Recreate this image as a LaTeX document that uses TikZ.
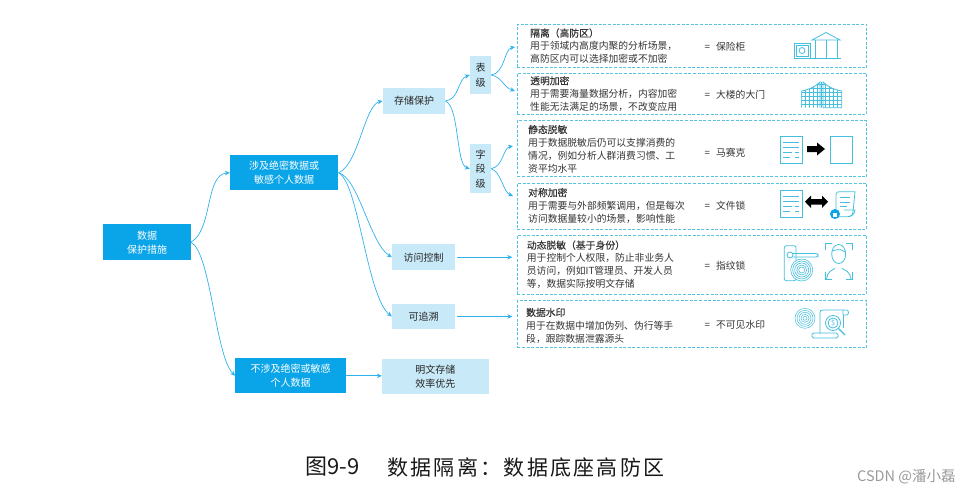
\documentclass[tikz,border=0pt]{standalone}
\usepackage{fontspec}
\setmainfont{Noto Sans CJK SC}
\newfontfamily\capfont[LetterSpace=11]{Noto Sans CJK SC}
\newfontfamily\headfont[FakeBold=.25]{Noto Sans CJK SC}
\usetikzlibrary{arrows.meta}
\definecolor{deepblue}{HTML}{0AA5E8}
\definecolor{paleblue}{HTML}{C8E9F7}
\definecolor{dashblue}{HTML}{55C5DF}
\definecolor{iconblue}{HTML}{45BFDD}
\definecolor{bodytext}{HTML}{333333}
\tikzset{
  mainbox/.style={fill=deepblue, text=white, inner sep=0pt, align=center, font=\fontsize{10}{14}\selectfont},
  subbox/.style={fill=paleblue, text=black!85, inner sep=0pt, align=center, font=\fontsize{10}{14}\selectfont},
  casebox/.style={draw=dashblue, dash pattern=on 3pt off 1.6pt, line width=1pt, minimum width=349.4pt, inner sep=0pt},
  desc/.style={anchor=west, inner sep=0pt, align=left, text=bodytext, font=\fontsize{9.8}{13}\selectfont},
  eqtext/.style={anchor=west, inner sep=0pt, text=bodytext, font=\fontsize{9.8}{13}\selectfont},
  link/.style={draw=deepblue!85, line width=.7pt, -{Stealth[length=5pt,width=4.5pt]}},
  icon/.style={draw=iconblue, line width=.8pt},
}
\begin{document}
\begin{tikzpicture}[x=1pt, y=-1pt]
  \useasboundingbox (0,0) rectangle (971,493);
  % left part
  \node[mainbox, minimum width=87.4pt, minimum height=35.7pt] (root) at (147,242.2) {数据\\保护措施};
  \node[mainbox, minimum width=108.3pt, minimum height=34.7pt] (sens) at (284.2,172.7) {涉及绝密数据或\\敏感个人数据};
  \node[mainbox, minimum width=110.7pt, minimum height=35pt] (plainrisk) at (290.7,375.8) {不涉及绝密或敏感\\个人数据};
  \node[subbox, minimum width=62.6pt, minimum height=26pt] (store) at (414,101) {存储保护};
  \node[subbox, minimum width=63pt, minimum height=26.3pt] (access) at (423.5,257.2) {访问控制};
  \node[subbox, minimum width=63pt, minimum height=25.6pt] (trace) at (423.5,316.5) {可追溯};
  \node[subbox, minimum width=106.7pt, minimum height=35.3pt] (plain) at (435.4,376.3) {明文存储\\效率优先};
  \node[subbox, minimum width=21pt, minimum height=38pt, font=\fontsize{10}{14.5}\selectfont] (tbl) at (480.5,75) {表\\级};
  \node[subbox, minimum width=21pt, minimum height=49.3pt, font=\fontsize{10}{14.5}\selectfont] (field) at (480.5,168.7) {字\\段\\级};
  % right part
  \node[casebox, minimum height=43.4pt] (safe) at (692,46) {};
  \node[casebox, minimum height=41pt] (gate) at (692,93.8) {};
  \node[casebox, minimum height=56pt] (mosaic) at (692,148.7) {};
  \node[casebox, minimum height=45.7pt] (filelock) at (692,206.2) {};
  \node[casebox, minimum height=59.3pt] (finger) at (692,264.7) {};
  \node[casebox, minimum height=47pt] (mark) at (692,324.2) {};
  \node[desc] (safetxt) at (530,46) {{\headfont 隔离（高防区）}\\用于领域内高度内聚的分析场景，\\高防区内可以选择加密或不加密};
  \node[desc] (gatetxt) at (530,93.8) {{\headfont 透明加密}\\用于需要海量数据分析，内容加密\\性能无法满足的场景，不改变应用};
  \node[desc] (mosaictxt) at (528,149) {{\headfont 静态脱敏}\\用于数据脱敏后仍可以支撑消费的\\情况，例如分析人群消费习惯、工\\资平均水平};
  \node[desc] (filetxt) at (528,205.7) {{\headfont 对称加密}\\用于需要与外部频繁调用，但是每次\\访问数据量较小的场景，影响性能};
  \node[desc] (fingertxt) at (526.7,264.7) {{\headfont 动态脱敏（基于身份）}\\用于控制个人权限，防止非业务人\\员访问，例如IT管理员、开发人员\\等，数据实际按明文存储};
  \node[desc] (marktxt) at (526,325.5) {{\headfont 数据水印}\\用于在数据中增加伪列、伪行等手\\段，跟踪数据泄露源头};
  \node[eqtext] (eqa) at (704.5,46.7) {=\hspace{6pt}保险柜};
  \node[eqtext] (eqb) at (704.5,94.3) {=\hspace{6pt}大楼的大门};
  \node[eqtext] (eqc) at (704.5,152.3) {=\hspace{6pt}马赛克};
  \node[eqtext] (eqd) at (704.5,206) {=\hspace{6pt}文件锁};
  \node[eqtext] (eqe) at (704.5,265.7) {=\hspace{6pt}指纹锁};
  \node[eqtext] (eqf) at (704.5,325) {=\hspace{6pt}不可见水印};
  % links
  \coordinate (safetip) at (515,47);
  \coordinate (gatetip) at (515,91);
  \coordinate (mosaictip) at (513,146);
  \coordinate (filetip) at (513,196);
  \draw[link] (root.east) .. controls +(22,-12) and +(-25,2) .. (sens.west);
  \draw[link] (root.east) .. controls +(20,10) and +(-20,-20) .. (plainrisk.west);
  \draw[link] (sens.east) .. controls +(20,-8) and +(-18,4) .. (store.west);
  \draw[link] (sens.east) .. controls +(20,5) and +(-22,-14) .. (access.west);
  \draw[link] (sens.east) .. controls +(20,10) and +(-25,-20) .. (trace.west);
  \draw[link] (plainrisk.east) -- (plainrisk.east -| plain.west);
  \draw[link] (store.east) .. controls +(14,-2) and +(-12,4) .. (tbl.west);
  \draw[link] (store.east) .. controls +(14,6) and +(-14,-4) .. (field.west);
  \draw[link] (tbl.east) .. controls +(14,-2) and +(-11,2) .. (safetip);
  \draw[link] (tbl.east) .. controls +(11,2) and +(-12,-4) .. (gatetip);
  \draw[link] (field.east) .. controls +(12,-2) and +(-10,2) .. (mosaictip);
  \draw[link] (field.east) .. controls +(10,3) and +(-10,-4) .. (filetip);
  \draw[link, shorten <=2pt, shorten >=4.5pt] (access.east) -- (access.east -| finger.west);
  \draw[link, shorten <=2pt, shorten >=4.5pt] (trace.east) -- (trace.east -| mark.west);
  % safe and bank
  \draw[icon] (794.3,43.3) rectangle (810.7,58.3) (796.5,45.5) rectangle (808.5,56);
  \draw[icon] (802,50.5) circle (3);
  \draw[icon] (812,40) -- (826,32.5) -- (840,40) -- cycle;
  \draw[icon] (811,58.5) -- (841,58.5);
  \foreach \i in {815,826.7,837}{
    \draw[icon] (\i,40) -- (\i,58.5);
  }
  % gate
  \begin{scope}
    \clip (801.7,107.7) -- (801.7,91) .. controls (808,90) and (815,87) .. (820,82) -- (823,82) .. controls (828,87) and (835,90) .. (841.7,91) -- (841.7,107.7) -- cycle;
    \foreach \i in {0,...,9}{
      \draw[icon, line width=.5pt] (801.7+4*\i,80) -- (801.7+4*\i,108);
    }
    \foreach \i in {0,...,6}{
      \draw[icon, line width=.5pt] (801,84+4*\i) -- (842,84+4*\i);
    }
  \end{scope}
  \draw[icon] (801.7,107.7) -- (801.7,91) .. controls (808,90) and (815,87) .. (820,82) -- (820,107.7) (823,107.7) -- (823,82) .. controls (828,87) and (835,90) .. (841.7,91) -- (841.7,107.7) -- cycle;
  % documents and arrows
  \foreach \y in {136.7,190.7}{
    \draw[icon] (780,\y) rectangle (802,\y+26.6);
    \draw[icon] (783,\y+6) -- (799,\y+6) (783,\y+11) -- (799,\y+11) (783,\y+16) -- (792,\y+16) (795,\y+16) -- (799,\y+16) (783,\y+21) -- (790,\y+21) (795,\y+21) -- (799,\y+21);
  }
  \draw[icon] (830.7,136.7) rectangle (852.7,163.3);
  \fill[black] (807,146) -- (817,146) -- (817,142.5) -- (825,149) -- (817,155.5) -- (817,152) -- (807,152) -- cycle;
  \fill[black] (805,201.7) -- (811,195.5) -- (811,199) -- (822,199) -- (822,195.5) -- (828,201.7) -- (822,208) -- (822,204.5) -- (811,204.5) -- (811,208) -- cycle;
  \draw[icon] (836,214) -- (836,194) .. controls (836,192) and (838,191.7) .. (840,191.7) -- (855,191.7) -- (853,212) .. controls (853,215) and (851,216.7) .. (848,216.7) -- (838,216.7);
  \draw[icon] (848,216.7) .. controls (851,216.7) and (855,214) .. (855,210) -- (844,210);
  \draw[icon] (840,197.5) -- (850,197.5) (840,202) -- (850,202) (840,206.5) -- (847,206.5);
  \fill[deepblue] (835,214) circle (5);
  \fill[white] (832.7,213.2) rectangle (837.3,216.8);
  \draw[white, line width=.6pt] (833.6,213.2) arc[start angle=180, end angle=0, radius=1.4];
  % door lock and face
  \draw[icon, rounded corners=2pt] (784.3,245.7) rectangle (796,280.7);
  \draw[icon] (790,255) circle (3);
  \draw[icon, rounded corners=2pt] (792,253.5) -- (818,253.5) -- (818,257) -- (793,257);
  \fill[white] (801.7,270) circle (11);
  \foreach \r in {3,5,7,9,11}{
    \draw[icon, line width=.6pt] (801.7,270) circle (\r);
  }
  \draw[icon] (825,250) -- (825,243.5) -- (832,243.5) (846,243.5) -- (852.7,243.5) -- (852.7,250);
  \draw[icon] (825,272) -- (825,279.5) -- (832,279.5) (846,279.5) -- (852.7,279.5) -- (852.7,272);
  \draw[icon] (838.7,254) ellipse (7 and 9.5);
  \draw[icon] (832,251) .. controls (836,250) and (841,248) .. (845,252);
  \draw[icon] (826.5,279) .. controls (827,272) and (832,270) .. (835,268.5) (851,279) .. controls (850.5,272) and (845,270) .. (842,268.5);
  % watermark
  \foreach \r in {2,4,6,8,10}{
    \draw[icon, line width=.5pt] (805,318.3) circle (\r);
  }
  \draw[icon] (820,334) -- (820,312.5) .. controls (820,310.5) and (821,310) .. (823,310) -- (846.7,310);
  \draw[icon] (846.7,310) .. controls (849,310) and (849,315) .. (846.7,315) -- (843,315) -- (843,310);
  \draw[icon] (843,315) -- (843,328);
  \draw[icon, rounded corners=1.5pt] (812,333) rectangle (838,338);
  \fill[white] (833,323) circle (7.5);
  \draw[icon] (833,323) circle (7.5) circle (5);
  \node[inner sep=0pt, text=iconblue, font=\fontsize{7}{7}\selectfont] (coin) at (833,323) {\$};
  \draw[icon, line width=1.4pt] (838.5,328.5) -- (845,335);
  % caption
  \node[anchor=west, inner sep=0pt, text=black!90, font=\fontsize{22}{24}\selectfont] (capnum) at (305,467) {图9-9};
  \node[anchor=west, inner sep=0pt, text=black!90, font=\capfont\fontsize{21}{24}\selectfont] (captxt) at (387,467) {数据隔离：数据底座高防区};
  \node[anchor=west, inner sep=0pt, text=black!40, font=\fontsize{14.5}{16}\selectfont] (csdn) at (857,477) {CSDN @潘小磊};
\end{tikzpicture}
\end{document}
